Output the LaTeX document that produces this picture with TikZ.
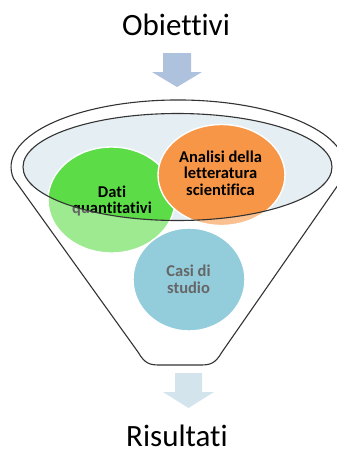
\documentclass[tikz,border=0pt]{standalone}
\usepackage{fontspec}
\setmainfont[Ligatures={NoCommon}]{Carlito}
\definecolor{rimfill}{HTML}{E4EEF3}
\definecolor{greenC}{HTML}{5CDC47}
\definecolor{orangeC}{HTML}{F79646}
\definecolor{blueC}{HTML}{4BACC6}
\definecolor{arrowTop}{HTML}{AEC1DD}
\definecolor{arrowBot}{HTML}{D3E4EC}
\definecolor{outline}{HTML}{333333}
\tikzset{
  bubble/.style={draw=white, line width=1.4pt},
  bubbletext/.style={font=\fontsize{16.5}{16.5}\selectfont\bfseries, align=center, text=black, inner sep=0pt},
  title/.style={font=\fontsize{31}{31}\selectfont, text=black, inner sep=0pt, anchor=base},
  funnelline/.style={draw=outline, line width=1.1pt},
}
\begin{document}
\begin{tikzpicture}[x=1pt,y=-1pt]
\useasboundingbox (0,0) rectangle (337,451);
% titles
\node[title] (obj) at (176,35) {Obiettivi};
\node[title] (ris) at (177,446) {Risultati};
% top arrow
\fill[arrowTop] (163,53) -- (191,53) -- (191,72) -- (202,72) -- (177,87) -- (152,72) -- (163,72) -- cycle;
% bottom arrow
\fill[arrowBot] (175,373) -- (202,373) -- (202,392) -- (214,392) -- (188.5,408) -- (163,392) -- (175,392) -- cycle;
% rim interior
\fill[rimfill] (177.5,167) ellipse[x radius=154.5, y radius=53.5];
% bubbles
\filldraw[bubble, fill=greenC] (111.5,200) ellipse[x radius=63.5, y radius=53];
\filldraw[bubble, fill=orangeC] (221.5,175) ellipse[x radius=63.5, y radius=50.5];
\filldraw[bubble, fill=blueC] (189,279.5) ellipse[x radius=56, y radius=51.5];
\node[bubbletext] (dati) at (112,201) {Dati\\quantitativi};
\node[bubbletext] (anal) at (220.5,172.8) {Analisi della\\letteratura\\scientifica};
\node[bubbletext] (casi) at (188.5,279.3) {Casi di\\studio};
% translucent funnel body
\fill[white, opacity=0.4, even odd rule]
  (342.5,178.6) arc[start angle=10, end angle=-190, x radius=167, y radius=67]
  -- (138,352) .. controls (145,364) and (150,365) .. (160,365) -- (200,365)
  .. controls (210,365) and (215,364) .. (222,352) -- cycle
  (177.5,167) ellipse[x radius=154.5, y radius=53.5];
% rim ellipse line
\draw[funnelline] (177.5,167) ellipse[x radius=154.5, y radius=53.5];
% funnel outline
\draw[funnelline]
  (342.5,178.6) arc[start angle=10, end angle=-190, x radius=167, y radius=67]
  -- (138,352) .. controls (145,364) and (150,365) .. (160,365) -- (200,365)
  .. controls (210,365) and (215,364) .. (222,352) -- cycle;
\end{tikzpicture}
\end{document}
